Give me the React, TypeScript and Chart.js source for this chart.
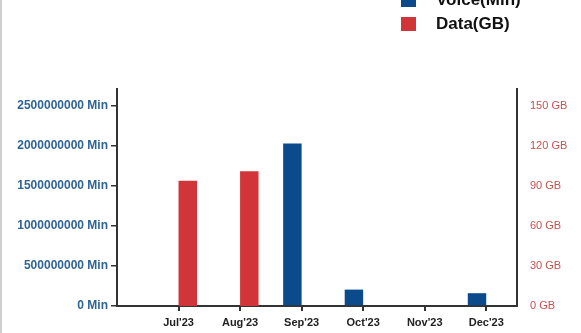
import React, { useEffect, useRef } from "react";
import { Chart, registerables } from "chart.js";

Chart.register(...registerables);

// Monthly usage: voice minutes on the left axis, data volume on the right axis
const months = ["Jul'23", "Aug'23", "Sep'23", "Oct'23", "Nov'23", "Dec'23"];
const voiceMin = [0, 0, 2030000000, 205000000, 0, 160000000];
const dataGB = [94, 101, 0, 0, 0, 0];
const voiceTicks = [0, 500000000, 1000000000, 1500000000, 2000000000, 2500000000];
const dataTicks = [0, 30, 60, 90, 120, 150];

const VOICE_COLOR = "#0b4a8b";
const DATA_COLOR = "#d23539";
const AXIS_COLOR = "#333333";
const FONT = "'Liberation Sans', Arial, sans-serif";

export default function App() {
  const canvasRef = useRef<HTMLCanvasElement | null>(null);

  useEffect(() => {
    const canvas = canvasRef.current;
    if (!canvas) return;
    const chart = new Chart(canvas, {
      type: "bar",
      data: {
        datasets: [
          {
            label: "Voice(Min)",
            data: voiceMin.map((v, i) => ({ x: i, y: v })),
            backgroundColor: VOICE_COLOR,
            yAxisID: "yL",
            categoryPercentage: 0.6,
            barPercentage: 1,
          },
          {
            label: "Data(GB)",
            data: dataGB.map((v, i) => ({ x: i, y: v })),
            backgroundColor: DATA_COLOR,
            yAxisID: "yR",
            categoryPercentage: 0.6,
            barPercentage: 1,
          },
        ],
      },
      options: {
        responsive: false,
        animation: false,
        devicePixelRatio: 1,
        layout: { padding: { top: 89, left: 0, right: 0, bottom: 0 } },
        plugins: {
          legend: { display: false },
          tooltip: { enabled: false },
        },
        scales: {
          x: {
            type: "linear",
            offset: false,
            min: -1,
            max: 5.5,
            afterBuildTicks: (s: any) => {
              s.ticks = months.map((_, i) => ({ value: i }));
            },
            afterFit: (s: any) => {
              s.height = 27;
            },
            border: { display: true, color: AXIS_COLOR, width: 2 },
            grid: {
              display: true,
              offset: false,
              drawOnChartArea: false,
              drawTicks: true,
              tickLength: 5,
              color: AXIS_COLOR,
              lineWidth: 2,
            },
            ticks: {
              padding: 5,
              maxRotation: 0,
              autoSkip: false,
              color: "#222222",
              font: { family: FONT, size: 11, weight: "bold" },
              callback: (v: any) => months[v as number] ?? "",
            },
          },
          yL: {
            type: "linear",
            position: "left",
            min: 0,
            max: 2712500000,
            afterBuildTicks: (s: any) => {
              s.ticks = voiceTicks.map((v) => ({ value: v }));
            },
            afterFit: (s: any) => {
              s.width = 117;
            },
            border: { display: true, color: AXIS_COLOR, width: 2 },
            grid: {
              display: true,
              drawOnChartArea: false,
              drawTicks: true,
              tickLength: 6,
              color: AXIS_COLOR,
              lineWidth: 1.5,
            },
            ticks: {
              padding: 3,
              color: "#2f6496",
              font: { family: FONT, size: 12, weight: "bold" },
              callback: (v: any) => `${v} Min`,
            },
          },
          yR: {
            type: "linear",
            position: "right",
            min: 0,
            max: 162.75,
            afterBuildTicks: (s: any) => {
              s.ticks = dataTicks.map((v) => ({ value: v }));
            },
            afterFit: (s: any) => {
              s.width = 64;
            },
            border: { display: true, color: AXIS_COLOR, width: 2 },
            grid: { display: false, drawOnChartArea: false, drawTicks: false },
            ticks: {
              padding: 13,
              color: "#c4524f",
              font: { family: FONT, size: 11 },
              callback: (v: any) => `${v} GB`,
            },
          },
        },
      },
    });
    return () => chart.destroy();
  }, []);

  const legendText: React.CSSProperties = {
    position: "absolute",
    left: 436,
    fontFamily: FONT,
    fontWeight: "bold",
    fontSize: 17,
    lineHeight: "20px",
    color: "#111111",
    whiteSpace: "nowrap",
  };

  return (
    <div
      style={{
        position: "fixed",
        left: 0,
        top: 0,
        width: 581,
        height: 333,
        overflow: "hidden",
        background: "#ffffff",
      }}
    >
      <canvas ref={canvasRef} width={581} height={333} style={{ display: "block" }} />
      <div
        style={{
          position: "absolute",
          left: 0,
          top: 0,
          width: 2,
          height: 333,
          background: "#cfcfcf",
        }}
      />
      <div
        style={{
          position: "absolute",
          left: 401,
          top: -7,
          width: 15,
          height: 14,
          background: VOICE_COLOR,
        }}
      />
      <div style={{ ...legendText, top: -10 }}>Voice(Min)</div>
      <div
        style={{
          position: "absolute",
          left: 401,
          top: 17,
          width: 15,
          height: 14,
          background: DATA_COLOR,
        }}
      />
      <div style={{ ...legendText, top: 14 }}>Data(GB)</div>
    </div>
  );
}
